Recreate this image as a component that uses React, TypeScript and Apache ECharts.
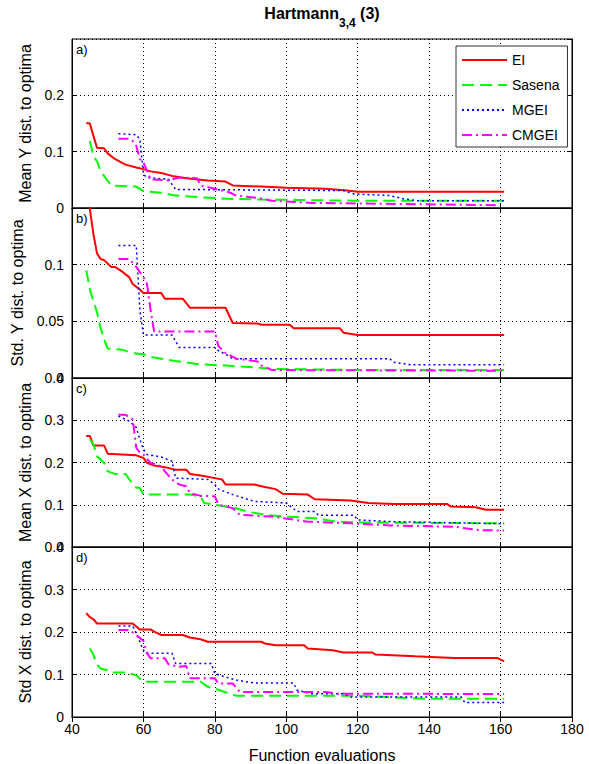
import React, { useEffect, useRef } from "react";
import * as echarts from "echarts";

// ---------- data ----------
const seriesNames = ["EI", "Sasena", "MGEI", "CMGEI"];
const xTicks = { min: 40, max: 180, step: 20 };
const panelLabels = ["a)", "b)", "c)", "d)"];
const yNames = [
  "Mean Y dist. to optima",
  "Std. Y dist. to optima",
  "Mean X dist. to optima",
  "Std X dist. to optima",
];
const yMax = [0.3, 0.15, 0.4, 0.4];
const yStep = [0.1, 0.05, 0.1, 0.1];
const xName = "Function evaluations";

// panel a) Mean Y dist.
const eiA = [[44,0.151],[45,0.150],[46,0.128],[47,0.107],[49,0.106],[50,0.097],[52,0.087],[54,0.080],[55,0.077],[58,0.072],[60,0.069],[62,0.065],[65,0.062],[68,0.057],[72,0.053],[76,0.050],[78,0.049],[83,0.047],[85,0.040],[93,0.038],[100,0.036],[111,0.034],[117,0.031],[120,0.029],[161,0.029]];
const sasA = [[45,0.119],[46,0.092],[47,0.083],[48,0.066],[50,0.048],[51,0.040],[58,0.038],[60,0.030],[65,0.027],[69,0.022],[76,0.019],[85,0.016],[93,0.015],[119,0.013],[161,0.013]];
const mgA = [[53,0.132],[58,0.130],[59,0.122],[60,0.060],[61,0.054],[67,0.051],[69,0.033],[116,0.031],[119,0.025],[129,0.022],[133,0.016],[137,0.013],[161,0.013]];
const cmA = [[53,0.123],[56,0.123],[57,0.119],[58,0.110],[59,0.087],[60,0.081],[61,0.066],[62,0.051],[67,0.049],[70,0.054],[75,0.053],[76,0.040],[80,0.034],[84,0.028],[86,0.022],[92,0.018],[96,0.013],[107,0.009],[121,0.008],[159,0.005]];

// panel b) Std. Y dist.
const eiB = [[44,0.170],[45,0.149],[46,0.127],[47,0.110],[48,0.105],[49,0.104],[51,0.098],[52,0.098],[54,0.094],[56,0.089],[57,0.083],[59,0.078],[60,0.075],[65,0.075],[66,0.070],[71,0.070],[73,0.062],[83,0.062],[85,0.0485],[92,0.048],[93,0.047],[101,0.047],[102,0.044],[115,0.044],[116,0.040],[120,0.038],[161,0.038]];
const sasB = [[44,0.095],[45,0.078],[46,0.068],[47,0.058],[48,0.044],[49,0.034],[50,0.026],[54,0.025],[57,0.022],[60,0.021],[63,0.018],[69,0.015],[76,0.012],[83,0.011],[94,0.0087],[96,0.008],[121,0.007],[161,0.007]];
const mgB = [[53,0.117],[58,0.117],[59,0.060],[60,0.038],[68,0.038],[70,0.027],[80,0.027],[81,0.024],[83,0.021],[85,0.017],[129,0.017],[130,0.014],[135,0.0116],[161,0.0116]];
const cmB = [[53,0.105],[56,0.105],[58,0.098],[60,0.089],[61,0.083],[62,0.060],[63,0.041],[80,0.041],[81,0.028],[83,0.022],[86,0.017],[92,0.0145],[93,0.011],[96,0.007],[161,0.0064]];

// panel c) Mean X dist.
const eiC = [[44,0.263],[45,0.263],[46,0.240],[49,0.240],[50,0.221],[58,0.217],[60,0.211],[61,0.199],[63,0.193],[66,0.189],[69,0.183],[72,0.183],[73,0.173],[76,0.169],[80,0.163],[82,0.160],[83,0.148],[91,0.148],[94,0.142],[97,0.137],[99,0.126],[106,0.124],[108,0.113],[118,0.110],[123,0.104],[130,0.102],[145,0.102],[146,0.096],[153,0.094],[156,0.088],[161,0.088]];
const sasC = [[45,0.255],[46,0.243],[47,0.215],[49,0.199],[50,0.179],[52,0.173],[55,0.173],[56,0.160],[58,0.140],[59,0.140],[60,0.124],[73,0.124],[76,0.120],[77,0.104],[80,0.100],[85,0.094],[89,0.084],[94,0.076],[100,0.072],[108,0.068],[114,0.060],[121,0.058],[161,0.056]];
const mgC = [[53,0.310],[56,0.298],[58,0.283],[59,0.255],[60,0.231],[61,0.219],[65,0.213],[68,0.203],[69,0.163],[78,0.160],[80,0.148],[81,0.137],[85,0.124],[91,0.108],[100,0.104],[103,0.084],[108,0.084],[109,0.075],[119,0.075],[120,0.064],[130,0.060],[161,0.055]];
const cmC = [[53,0.313],[55,0.313],[57,0.302],[58,0.235],[59,0.223],[60,0.219],[62,0.199],[65,0.191],[66,0.179],[68,0.160],[70,0.148],[72,0.144],[73,0.128],[76,0.121],[80,0.120],[81,0.100],[85,0.092],[87,0.076],[96,0.072],[106,0.060],[118,0.056],[129,0.051],[147,0.048],[154,0.040],[161,0.039]];

// panel d) Std X dist.
const eiD = [[44,0.244],[45,0.235],[46,0.230],[47,0.220],[57,0.220],[59,0.206],[62,0.206],[63,0.201],[65,0.193],[71,0.193],[73,0.187],[76,0.183],[78,0.177],[93,0.177],[94,0.173],[97,0.169],[105,0.169],[106,0.161],[113,0.157],[116,0.152],[124,0.152],[125,0.147],[136,0.143],[139,0.142],[147,0.139],[159,0.139],[161,0.131]];
const sasD = [[45,0.161],[46,0.146],[47,0.124],[48,0.114],[50,0.110],[51,0.105],[55,0.105],[58,0.098],[60,0.083],[76,0.083],[78,0.071],[80,0.067],[84,0.055],[86,0.050],[121,0.050],[138,0.043],[161,0.043]];
const mgD = [[53,0.214],[57,0.214],[58,0.197],[60,0.157],[61,0.150],[68,0.150],[69,0.126],[79,0.126],[80,0.102],[83,0.094],[86,0.087],[91,0.080],[102,0.080],[103,0.063],[107,0.055],[116,0.055],[118,0.047],[149,0.047],[150,0.034],[161,0.034]];
const cmD = [[53,0.205],[56,0.205],[58,0.193],[60,0.179],[61,0.150],[62,0.138],[66,0.138],[67,0.124],[70,0.118],[72,0.120],[73,0.091],[80,0.091],[81,0.079],[85,0.079],[87,0.059],[111,0.059],[114,0.055],[161,0.054]];

const panelData = [
  [eiA, sasA, mgA, cmA],
  [eiB, sasB, mgB, cmB],
  [eiC, sasC, mgC, cmC],
  [eiD, sasD, mgD, cmD],
];

// ---------- styles ----------
const FONT = "'Liberation Sans', Arial, Helvetica, sans-serif";
const seriesStyles = [
  { color: "#ff0000", width: 2, type: "solid" as any },
  { color: "#00ff00", width: 2, type: [12, 6] as any },
  { color: "#0000ff", width: 1.5, type: [2, 3] as any },
  { color: "#ff00ff", width: 2, type: [10, 4, 2, 4] as any },
];
const gridLeft = 72;
const gridWidth = 500;
const panelTops = [39, 208, 378, 547];
const panelHeights = [169, 170, 169, 170];

export default function App() {
  const ref = useRef<HTMLDivElement>(null);
  useEffect(() => {
    if (!ref.current) return;
    const chart = echarts.init(ref.current, undefined, { renderer: "svg" });
    const grids: any[] = [];
    const xAxes: any[] = [];
    const yAxes: any[] = [];
    const series: any[] = [];
    const graphics: any[] = [];
    const dotted = { color: "#000", width: 1, type: [1, 3] };
    for (let i = 0; i < 4; i++) {
      grids.push({
        left: gridLeft,
        width: gridWidth,
        top: panelTops[i],
        height: panelHeights[i],
        show: true,
        borderColor: "#000",
        borderWidth: 1,
        backgroundColor: "transparent",
        containLabel: false,
      });
      xAxes.push({
        gridIndex: i,
        type: "value",
        position: "bottom",
        min: xTicks.min,
        max: xTicks.max,
        interval: xTicks.step,
        axisLine: { show: true, lineStyle: { color: "#000", width: 1 } },
        axisTick: { show: true, inside: true, length: 5, lineStyle: { color: "#000" } },
        axisLabel: { show: i === 3, fontSize: 14, color: "#000", margin: 5, fontFamily: FONT },
        splitLine: { show: true, lineStyle: dotted },
        name: i === 3 ? xName : "",
        nameLocation: "middle",
        nameGap: 30,
        nameTextStyle: { fontSize: 16, color: "#000", fontFamily: FONT },
      });
      xAxes.push({
        gridIndex: i,
        type: "value",
        position: "top",
        min: xTicks.min,
        max: xTicks.max,
        interval: xTicks.step,
        axisLine: { show: true, lineStyle: { color: "#000", width: 1 } },
        axisTick: { show: true, inside: true, length: 5, lineStyle: { color: "#000" } },
        axisLabel: { show: false },
        splitLine: { show: false },
      });
      yAxes.push({
        gridIndex: i,
        type: "value",
        position: "left",
        min: 0,
        max: yMax[i],
        interval: yStep[i],
        axisLine: { show: true, lineStyle: { color: "#000", width: 1 } },
        axisTick: { show: true, inside: true, length: 5, lineStyle: { color: "#000" } },
        axisLabel: {
          fontSize: 14,
          color: "#000",
          margin: 8,
          fontFamily: FONT,
          showMaxLabel: i >= 2,
          showMinLabel: true,
        },
        splitLine: { show: true, lineStyle: dotted },
        name: yNames[i],
        nameLocation: "middle",
        nameGap: 37,
        nameTextStyle: { fontSize: 16, color: "#000", fontFamily: FONT },
      });
      yAxes.push({
        gridIndex: i,
        type: "value",
        position: "right",
        min: 0,
        max: yMax[i],
        interval: yStep[i],
        axisLine: { show: true, lineStyle: { color: "#000", width: 1 } },
        axisTick: { show: true, inside: true, length: 5, lineStyle: { color: "#000" } },
        axisLabel: { show: false },
        splitLine: { show: false },
      });
      panelData[i].forEach((d, k) => {
        const st = seriesStyles[k];
        series.push({
          name: seriesNames[k],
          type: "line",
          xAxisIndex: i * 2,
          yAxisIndex: i * 2,
          data: d,
          symbol: "none",
          showSymbol: false,
          clip: true,
          color: st.color,
          lineStyle: { color: st.color, width: st.width, type: st.type },
          emphasis: { disabled: true },
          z: 2 + k,
        });
      });
      graphics.push({
        type: "text",
        x: gridLeft + 4,
        y: panelTops[i] + 4,
        style: { text: panelLabels[i], fontSize: 13, fill: "#000", fontFamily: FONT },
      });
    }
    graphics.push({
      type: "text",
      x: gridLeft + gridWidth / 2,
      y: -2,
      style: {
        text: "{b|Hartmann}{s|3,4}{b| (3)}",
        align: "center",
        verticalAlign: "top",
        fill: "#000",
        rich: {
          b: { fontSize: 16, fontWeight: "bold", lineHeight: 31, fontFamily: FONT, fill: "#000" },
          s: { fontSize: 12, fontWeight: "bold", lineHeight: 12, verticalAlign: "bottom", fontFamily: FONT, fill: "#000" },
        },
      },
    });

    chart.setOption({
      animation: false,
      backgroundColor: "#fff",
      textStyle: { fontFamily: FONT },
      grid: grids,
      xAxis: xAxes,
      yAxis: yAxes,
      series,
      graphic: graphics,
      legend: {
        data: seriesNames,
        orient: "vertical",
        left: 456,
        top: 46,
        itemWidth: 45,
        itemHeight: 14,
        itemGap: 11,
        padding: [7, 8, 5, 5],
        borderColor: "#333",
        borderWidth: 1,
        backgroundColor: "#fff",
        selectedMode: false,
        itemStyle: { opacity: 0 },
        textStyle: { fontSize: 14, color: "#000", fontFamily: FONT },
        z: 10,
      },
    });
    return () => chart.dispose();
  }, []);
  return (
    <div
      ref={ref}
      style={{ position: "fixed", left: 0, top: 0, width: 589, height: 764 }}
    />
  );
}
